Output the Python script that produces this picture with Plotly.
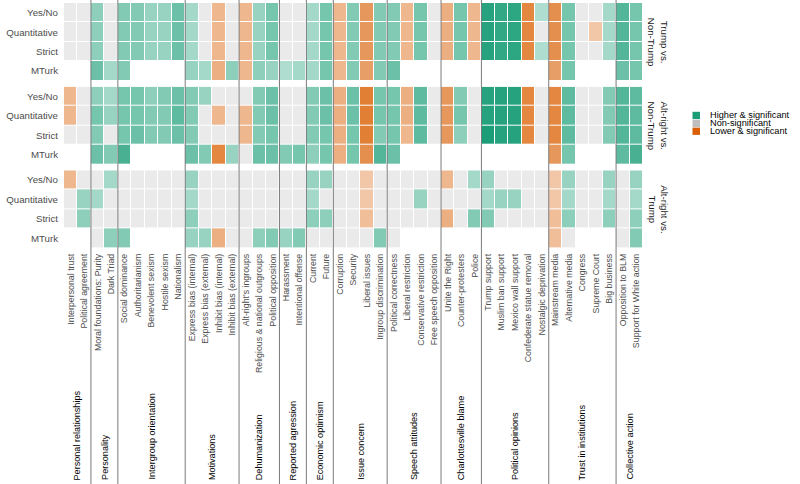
import plotly.graph_objects as go
from plotly.subplots import make_subplots

N = None

variables = [
    "Interpersonal trust", "Political agreement",
    "Moral foundations: Purity", "Dark Triad",
    "Social dominance", "Authoritarianism", "Benevolent sexism", "Hostile sexism", "Nationalism",
    "Express bias (internal)", "Express bias (external)", "Inhibit bias (internal)", "Inhibit bias (external)",
    "Alt-right's ingroups", "Religious & national outgroups", "Political opposition",
    "Harassment", "Intentional offense",
    "Current", "Future",
    "Corruption", "Security", "Liberal issues", "Ingroup discrimination",
    "Political correctness", "Liberal restriction", "Conservative restriction", "Free speech opposition",
    "Unite the Right", "Counter-protesters", "Police",
    "Trump support", "Muslim ban support", "Mexico wall support", "Confederate statue removal", "Nostalgic deprivation",
    "Mainstream media", "Alternative media", "Congress", "Supreme Court", "Big business",
    "Opposition to BLM", "Support for White action",
]

group_names = ["Personal relationships", "Personality", "Intergroup orientation", "Motivations",
               "Dehumanization", "Reported agression", "Economic optimism", "Issue concern",
               "Speech attitudes", "Charlottesville blame", "Political opinions",
               "Trust in institutions", "Collective action"]
group_sizes = [2, 2, 5, 4, 3, 2, 2, 4, 4, 3, 5, 5, 2]

measures = ["Yes/No", "Quantitative", "Strict", "MTurk"]
comparisons = ["Trump vs.<br>Non-Trump", "Alt-right vs.<br>Non-Trump", "Alt-right vs.<br>Trump"]

# signed effect intensity: >0 higher & significant, <0 lower & significant, 0 non-significant, None = not measured
trump_nontrump_yesno = [0, 0, 0.5, 0, 0.55, 0.55, 0.45, 0.45, 0.65, 0.4, 0, -0.45, 0, -0.45, 0.45, 0.6, 0, 0, 0.4, 0.6,
                        -0.45, 0.55, -0.65, 0.55, 0.55, -0.45, 0.6, 0, -0.5, 0.6, -0.45, 0.95, 0.9, 0.92, -0.75, 0.35,
                        -0.7, 0.6, 0, 0, 0.4, 0.75, 0.6]
trump_nontrump_quant = [0, 0, 0.5, 0, 0.55, 0.55, 0.45, 0.45, 0.65, 0.4, 0, -0.45, 0, -0.45, 0.45, 0.6, 0, 0, 0.4, 0.6,
                        -0.45, 0.55, -0.65, 0.55, 0.55, -0.45, 0.6, 0, -0.5, 0.6, -0.45, 0.95, 0.9, 0.92, -0.75, 0,
                        -0.7, 0.6, 0, -0.35, 0.4, 0.75, 0.6]
trump_nontrump_strict = [0, 0, 0.5, 0, 0.55, 0.55, 0.45, 0.45, 0.65, 0.4, 0, -0.45, 0, -0.45, 0.45, 0.6, 0, 0, 0.4, 0.6,
                         -0.45, 0.55, -0.65, 0.55, 0.55, -0.45, 0.6, 0, -0.5, 0.6, -0.45, 0.95, 0.9, 0.92, -0.75, 0.35,
                         -0.7, 0.6, 0, 0, 0.4, 0.75, 0.6]
trump_nontrump_mturk = [N, N, 0.65, 0.4, 0.55, N, N, N, N, 0.45, 0.4, -0.5, 0.5, -0.45, 0.5, 0.45, 0.35, 0.4, 0.4, 0.6,
                        -0.45, 0.55, -0.6, 0.55, 0.65, N, N, N, N, N, N, N, N, N, N, N,
                        -0.6, 0.6, N, N, N, 0.65, 0.6]

altright_nontrump_yesno = [-0.45, 0, 0.5, 0.4, 0.6, 0.6, 0.5, 0.55, 0.65, 0.55, 0.45, 0, 0, 0, 0.55, 0.65, 0, 0, 0.55, 0.65,
                           -0.5, 0.65, -0.8, 0.6, 0.6, -0.5, 0.7, 0, -0.65, 0.55, 0, 0.95, 0.95, 0.95, -0.75, 0,
                           -0.75, 0.7, 0, 0, 0.55, 0.75, 0.7]
altright_nontrump_quant = [-0.45, 0, 0.6, 0.45, 0.6, 0.6, 0.55, 0.55, 0.7, 0.55, 0, -0.45, 0, -0.45, 0.55, 0.65, 0, 0, 0.55, 0.65,
                           -0.5, 0.65, -0.8, 0.6, 0.6, -0.5, 0.7, 0, -0.65, 0.6, 0, 0.95, 0.95, 0.95, -0.75, 0,
                           -0.75, 0.7, 0, 0, 0.55, 0.75, 0.7]
altright_nontrump_strict = [0, 0, 0.55, 0, 0.6, 0.65, 0.55, 0.55, 0.65, 0.55, 0, 0, 0, -0.45, 0.55, 0.6, 0, 0, 0.55, 0.6,
                            -0.5, 0.6, -0.8, 0.55, 0.6, -0.45, 0.7, 0, -0.65, 0.5, 0, 1.0, 0.95, 0.95, -0.75, 0,
                            -0.75, 0.7, 0, 0, 0.55, 0.75, 0.7]
altright_nontrump_mturk = [N, N, 0.65, 0.55, 0.8, N, N, N, N, 0.65, 0.55, -0.75, 0.45, 0, 0.65, 0.65, 0.55, 0.6, 0.5, 0.6,
                           -0.5, 0.6, -0.7, 0.75, 0.65, N, N, N, N, N, N, N, N, N, N, N,
                           -0.65, 0.6, N, N, N, 0.7, 0.8]

altright_trump_yesno = [-0.45, 0, 0, 0.4, 0, 0, 0, 0, 0, 0.45, 0, 0, 0, 0, 0, 0, 0, 0, 0.45, 0.45,
                        0, 0, -0.35, 0, 0, 0, 0, 0, -0.45, 0, 0.4, 0.45, 0, 0, 0, 0,
                        -0.35, 0.45, 0, 0, 0.45, 0, 0.45]
altright_trump_quant = [0, 0.45, 0.4, 0, 0, 0, 0, 0, 0, 0.4, 0, 0, 0, 0, 0, 0, 0, 0, 0.4, 0,
                        0, 0, -0.35, 0, 0, 0, 0.45, 0, 0, 0, 0, 0.4, 0.45, 0.45, 0, 0,
                        -0.35, 0.4, 0, 0, 0.4, 0, 0.4]
altright_trump_strict = [0, 0.5, 0, 0, 0, 0, 0, 0, 0, 0.5, 0, 0, 0, 0, 0, 0, 0, 0, 0.5, 0.5,
                         0, 0, -0.4, 0, 0, 0, 0, 0, -0.5, 0, 0.55, 0.55, 0, 0, 0, 0,
                         -0.4, 0.5, 0, 0, 0.5, 0, 0.5]
altright_trump_mturk = [N, N, 0, 0.5, 0.55, N, N, N, N, 0.45, 0.45, -0.5, 0, 0, 0.5, 0.55, 0.45, 0.55, 0, 0,
                        0, 0, 0, 0.55, 0, N, N, N, N, N, N, N, N, N, N, N,
                        -0.4, 0, N, N, N, 0, 0.55]

panels = [
    [trump_nontrump_yesno, trump_nontrump_quant, trump_nontrump_strict, trump_nontrump_mturk],
    [altright_nontrump_yesno, altright_nontrump_quant, altright_nontrump_strict, altright_nontrump_mturk],
    [altright_trump_yesno, altright_trump_quant, altright_trump_strict, altright_trump_mturk],
]

legend_labels = ["Higher & significant", "Non-significant", "Lower & significant"]
GREEN = "#1B9E77"
ORANGE = "#D95F02"
GRAY_LEGEND = "#BEBEBE"
GRAY_CELL = "#EAEAEA"
WHITE = "#FFFFFF"
LINE = "#7A7A7A"
FONT = "Liberation Sans, Arial, sans-serif"

# colour coding: z in [-2,-1] orange (alpha = |z|-1), 0 grey, [1,2] green (alpha = z-1)
colorscale = [
    [0.0, ORANGE], [0.2499, WHITE],
    [0.2501, GRAY_CELL], [0.7499, GRAY_CELL],
    [0.7501, WHITE], [1.0, GREEN],
]


def encode(v):
    if v is None:
        return None
    if v > 0:
        return 1 + v
    if v < 0:
        return -1 + v
    return 0


W, H = 800, 484
ML, MR, MT, MB = 64, 157, 3, 236
PW = W - ML - MR
PH = H - MT - MB


def px_x(px):
    return (px - ML) / PW


def px_y(py):
    return (H - MB - py) / PH


fig = make_subplots(rows=3, cols=1, shared_xaxes=True, vertical_spacing=6 / PH)

for i, rows in enumerate(panels):
    z = [[encode(v) for v in row] for row in rows]
    fig.add_trace(go.Heatmap(
        z=z, x=variables, y=measures,
        zmin=-2, zmax=2, colorscale=colorscale, showscale=False,
        xgap=1, ygap=1, hoverongaps=False,
    ), row=i + 1, col=1)
    fig.update_yaxes(autorange="reversed", row=i + 1, col=1)
    # facet strip label
    fig.add_annotation(
        text=comparisons[i], xref="paper", x=px_x(658), xanchor="center",
        yref=f"y{'' if i == 0 else i + 1} domain", y=0.5, yanchor="middle",
        textangle=90, showarrow=False,
        font=dict(family=FONT, size=9.7, color="#1A1A1A"),
    )

# group separators and group labels
cum = 0
for name, size in zip(group_names, group_sizes):
    center = cum + (size - 1) / 2
    fig.add_annotation(
        text=name, xref="x3", x=center, xanchor="center",
        yref="paper", y=px_y(482), yanchor="bottom",
        textangle=-90, showarrow=False,
        font=dict(family=FONT, size=9.1, color="#000000"),
    )
    cum += size
    if cum < len(variables):
        fig.add_shape(type="line", xref="x3", yref="paper",
                      x0=cum - 0.5, x1=cum - 0.5, y0=px_y(H), y1=px_y(0),
                      line=dict(color=LINE, width=1))

# manual legend
legend_colors = [GREEN, GRAY_LEGEND, ORANGE]
for k, (lab, col) in enumerate(zip(legend_labels, legend_colors)):
    top = 111.8 + k * 7.9
    fig.add_shape(type="rect", xref="paper", yref="paper",
                  x0=px_x(692.5), x1=px_x(700), y0=px_y(top + 7.3), y1=px_y(top),
                  fillcolor=col, line=dict(width=0))
    fig.add_annotation(text=lab, xref="paper", yref="paper",
                       x=px_x(708), xanchor="left", y=px_y(top + 3.7), yanchor="middle",
                       showarrow=False,
                       font=dict(family=FONT, size=9.2, color="#000000"))

fig.update_xaxes(showgrid=False, zeroline=False, showline=False, ticks="")
fig.update_yaxes(showgrid=False, zeroline=False, showline=False, ticks="",
                 tickfont=dict(family=FONT, size=9.7, color="#4D4D4D"), ticklabelstandoff=5)
fig.update_xaxes(tickangle=-90, tickfont=dict(family=FONT, size=8.8, color="#4D4D4D"),
                 ticklabelstandoff=3, row=3, col=1)

fig.update_layout(
    width=W, height=H,
    margin=dict(l=ML, r=MR, t=MT, b=MB),
    paper_bgcolor="white", plot_bgcolor="white",
    showlegend=False,
    font=dict(family=FONT),
)

fig.write_html("out.html", config={"displayModeBar": False},
               post_script="document.body.style.margin='0px';")
